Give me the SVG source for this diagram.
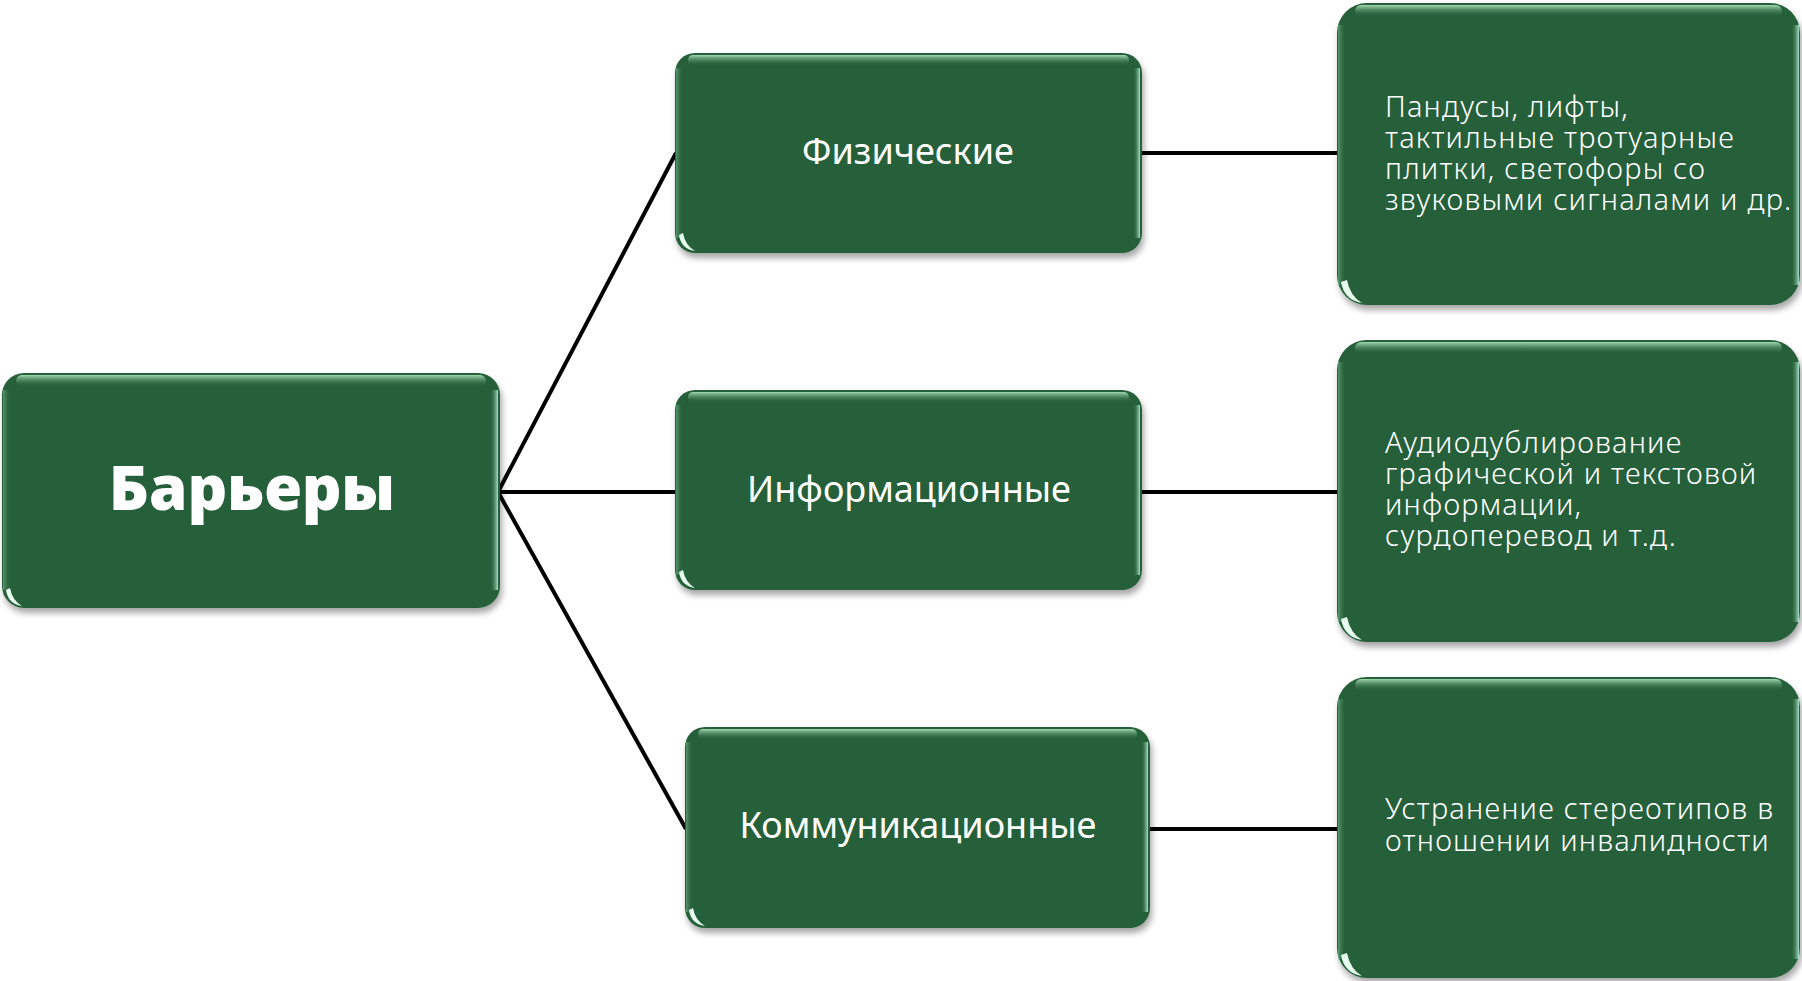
<svg xmlns="http://www.w3.org/2000/svg" width="1802" height="981" viewBox="0 0 1802 981">
<style>
.box{fill:#27613A;}
.t{fill:#FFFFFF;font-family:"Noto Sans","DejaVu Sans",sans-serif;}
.c{text-anchor:middle;font-size:36px;}
.r{font-size:29px;font-weight:300;letter-spacing:1.2px;}
.conn{stroke:#000;stroke-width:4;fill:none;}
</style>
<defs>
<filter id="sh" x="-5%" y="-5%" width="112%" height="115%">
<feDropShadow dx="2" dy="5" stdDeviation="3" flood-color="#000" flood-opacity="0.35"/>
</filter>
<linearGradient id="top" x1="0" y1="0" x2="0" y2="1">
<stop offset="0" stop-color="#A8E0B8" stop-opacity="0.95"/>
<stop offset="1" stop-color="#27613A" stop-opacity="0"/>
</linearGradient>
<linearGradient id="rt" x1="0" y1="0" x2="1" y2="0">
<stop offset="0" stop-color="#27613A" stop-opacity="0"/>
<stop offset="1" stop-color="#B8F0D8" stop-opacity="0.9"/>
</linearGradient>
<linearGradient id="lf" x1="0" y1="0" x2="1" y2="0">
<stop offset="0" stop-color="#6FAF85" stop-opacity="0.7"/>
<stop offset="1" stop-color="#27613A" stop-opacity="0"/>
</linearGradient>
</defs>

<g id="connectors">
<line class="conn" x1="498" y1="492" x2="676" y2="153"/>
<line class="conn" x1="498" y1="492" x2="676" y2="492"/>
<line class="conn" x1="498" y1="492" x2="686" y2="829"/>
<line class="conn" x1="1140" y1="153" x2="1338" y2="153"/>
<line class="conn" x1="1140" y1="492" x2="1338" y2="492"/>
<line class="conn" x1="1148" y1="829" x2="1338" y2="829"/>
</g>

<g id="root">
<rect class="box" x="2" y="373" width="498" height="235" rx="22" filter="url(#sh)"/>
<rect x="16" y="375" width="470" height="12" rx="6" fill="url(#top)"/>
<rect x="490" y="390" width="8" height="200" fill="url(#rt)"/>
<rect x="3" y="390" width="8" height="200" fill="url(#lf)"/>
<path d="M6 590 Q8 604 22 606 Q12 600 10 588 Z" fill="#E8FFF0"/>
<text class="t" x="252" y="510" text-anchor="middle" font-size="62" font-weight="900">Барьеры</text>
</g>

<g id="physical">
<rect class="box" x="675" y="53" width="467" height="200" rx="20" filter="url(#sh)"/>
<rect x="688" y="55" width="441" height="11" rx="5" fill="url(#top)"/>
<rect x="1133" y="68" width="7" height="170" fill="url(#rt)"/>
<rect x="676" y="68" width="7" height="170" fill="url(#lf)"/>
<path d="M679 235 Q681 249 695 251 Q685 245 683 233 Z" fill="#E8FFF0"/>
<text class="t c" x="908" y="164">Физические</text>
</g>

<g id="informational">
<rect class="box" x="675" y="390" width="467" height="200" rx="20" filter="url(#sh)"/>
<rect x="688" y="392" width="441" height="11" rx="5" fill="url(#top)"/>
<rect x="1133" y="405" width="7" height="170" fill="url(#rt)"/>
<rect x="676" y="405" width="7" height="170" fill="url(#lf)"/>
<path d="M679 572 Q681 586 695 588 Q685 582 683 570 Z" fill="#E8FFF0"/>
<text class="t c" x="909" y="502">Информационные</text>
</g>

<g id="communication">
<rect class="box" x="685" y="727" width="465" height="201" rx="20" filter="url(#sh)"/>
<rect x="698" y="729" width="439" height="11" rx="5" fill="url(#top)"/>
<rect x="1141" y="742" width="7" height="170" fill="url(#rt)"/>
<rect x="686" y="742" width="7" height="170" fill="url(#lf)"/>
<path d="M689 910 Q691 924 705 926 Q695 920 693 908 Z" fill="#E8FFF0"/>
<text class="t c" x="918" y="838">Коммуникационные</text>
</g>

<g id="physical-detail">
<rect class="box" x="1337" y="3" width="463" height="302" rx="30" filter="url(#sh)"/>
<rect x="1355" y="5" width="427" height="12" rx="6" fill="url(#top)"/>
<rect x="1791" y="25" width="8" height="260" fill="url(#rt)"/>
<rect x="1338" y="25" width="8" height="260" fill="url(#lf)"/>
<path d="M1341 282 Q1344 300 1362 303 Q1350 296 1347 280 Z" fill="#E8FFF0"/>
<text class="t r" x="1385" y="117">Пандусы, лифты,</text>
<text class="t r" x="1385" y="148">тактильные тротуарные</text>
<text class="t r" x="1385" y="179">плитки, светофоры со</text>
<text class="t r" x="1385" y="210">звуковыми сигналами и др.</text>
</g>

<g id="informational-detail">
<rect class="box" x="1337" y="340" width="463" height="302" rx="30" filter="url(#sh)"/>
<rect x="1355" y="342" width="427" height="12" rx="6" fill="url(#top)"/>
<rect x="1791" y="362" width="8" height="260" fill="url(#rt)"/>
<rect x="1338" y="362" width="8" height="260" fill="url(#lf)"/>
<path d="M1341 619 Q1344 637 1362 640 Q1350 633 1347 617 Z" fill="#E8FFF0"/>
<text class="t r" x="1385" y="453">Аудиодублирование</text>
<text class="t r" x="1385" y="484">графической и текстовой</text>
<text class="t r" x="1385" y="515">информации,</text>
<text class="t r" x="1385" y="546">сурдоперевод и т.д.</text>
</g>

<g id="communication-detail">
<rect class="box" x="1337" y="677" width="463" height="301" rx="30" filter="url(#sh)"/>
<rect x="1355" y="679" width="427" height="12" rx="6" fill="url(#top)"/>
<rect x="1791" y="699" width="8" height="260" fill="url(#rt)"/>
<rect x="1338" y="699" width="8" height="260" fill="url(#lf)"/>
<path d="M1341 955 Q1344 973 1362 976 Q1350 969 1347 953 Z" fill="#E8FFF0"/>
<text class="t r" x="1385" y="819">Устранение стереотипов в</text>
<text class="t r" x="1385" y="851">отношении инвалидности</text>
</g>
</svg>
